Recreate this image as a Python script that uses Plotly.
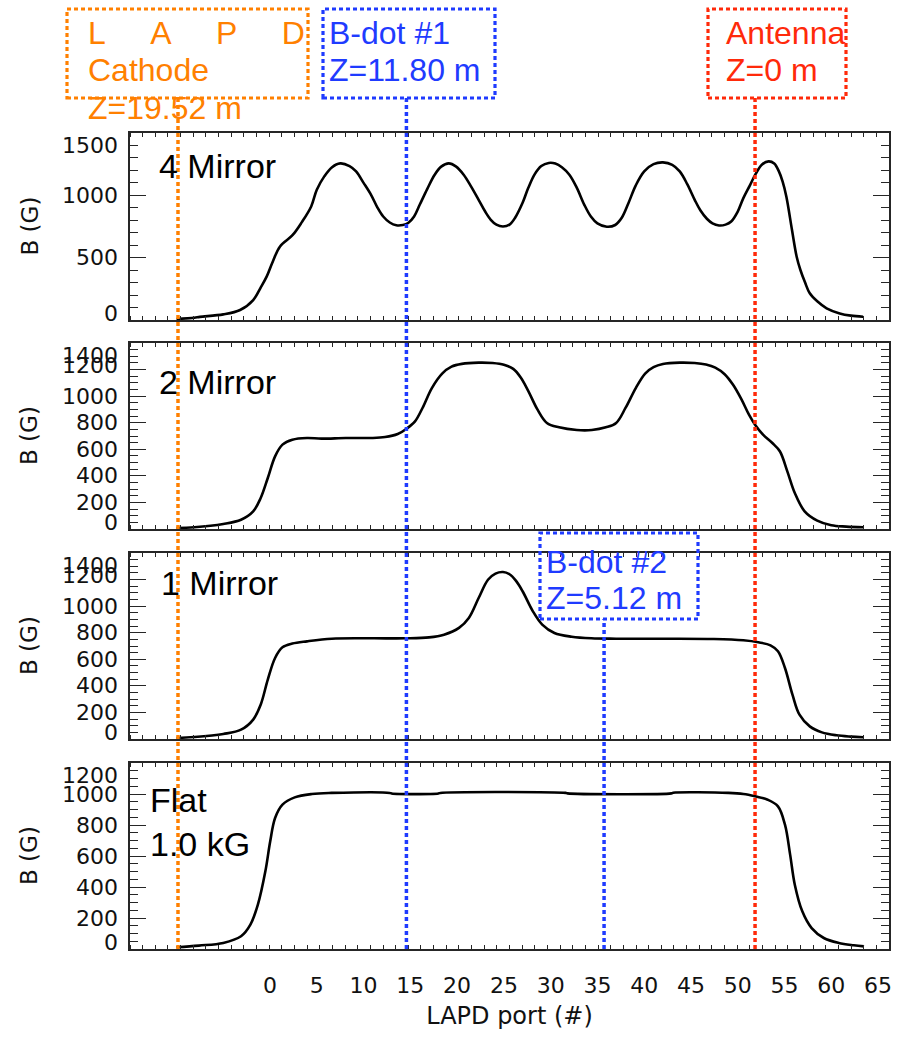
import plotly.graph_objects as go

# ---------------- data ----------------
port_4m = [-10.0, -8.1, -7.5, -5.0, -3.2, -1.8, -1.0, -0.35, 0.3, 1.07, 2.4, 3.4, 4.4, 5.0, 5.8, 6.6, 7.5,
           8.5, 9.2, 10.0, 10.8, 11.5, 12.1, 12.8, 13.5, 14.2, 14.8, 15.4, 16.0, 16.8, 17.6, 18.3, 19.1,
           19.9, 20.7, 21.5, 22.3, 23.0, 23.6, 24.2, 24.9, 25.6, 26.2, 27.0, 27.6, 28.3, 29.0, 29.8, 30.5,
           31.2, 32.0, 32.8, 33.6, 34.3, 35.0, 36.0, 36.9, 37.6, 38.3, 39.1, 40.0, 41.0, 42.0, 43.0,
           43.8, 44.6, 45.4, 46.0, 46.7, 47.3, 48.0, 48.7, 49.3, 50.0, 50.6, 51.3, 51.9, 52.6, 53.3,
           53.9, 54.4, 54.8, 55.2, 55.8, 56.3, 56.7, 57.2, 57.7, 58.5, 59.5, 60.9, 62.1, 63.4]
b_4m = [8, 18, 25, 45, 80, 160, 260, 350, 470, 590, 680, 785, 911, 1045, 1152, 1224, 1256,
        1235, 1192, 1100, 1004, 900, 830, 782, 760, 762, 780, 830, 924, 1050, 1165, 1230, 1256,
        1230, 1165, 1070, 964, 870, 804, 765, 750, 765, 820, 940, 1058, 1170, 1235, 1260, 1255,
        1225, 1165, 1060, 924, 830, 775, 748, 762, 820, 935, 1080, 1192, 1250, 1264, 1245,
        1192, 1090, 964, 880, 812, 775, 758, 765, 790, 870, 978, 1080, 1170, 1248, 1272,
        1255, 1192, 1110, 989, 722, 508, 401, 300, 214, 150, 94, 53, 35, 26]

port_2m = [-10.0, -8.1, -5.0, -3.1, -1.8, -1.0, -0.24, 0.54, 1.33, 2.38, 3.95, 5.5, 8.1, 10.8, 12.3,
           13.65, 14.6, 15.5, 16.3, 17.3, 18.4, 19.4, 20.5, 22.3, 23.8, 25.0, 26.0, 26.8, 27.6, 28.6,
           29.6, 30.9, 32.8, 34.4, 35.9, 37.0, 38.0, 39.1, 40.1, 41.0, 42.0, 43.8, 45.4, 46.6, 47.6,
           48.6, 49.5, 50.4, 51.2, 51.85, 52.7, 53.7, 54.5, 55.3, 56.1, 57.15, 58.5, 60.0, 61.6, 63.4]
b_2m = [8, 13, 38, 70, 133, 233, 384, 547, 635, 672, 685, 680, 685, 685, 692,
        715, 755, 810, 911, 1061, 1170, 1222, 1243, 1252, 1249, 1236, 1205, 1140, 1040, 898,
        798, 765, 745, 745, 765, 798, 911, 1061, 1170, 1218, 1242, 1252, 1249, 1238, 1215,
        1165, 1085, 975, 860, 785, 710, 647, 585, 434, 271, 133, 63, 28, 18, 13]

port_1m = [-10.0, -8.1, -5.0, -3.1, -1.8, -1.0, -0.24, 0.54, 1.33, 2.38, 3.95, 6.6, 10.8, 14.6, 17.0,
           18.6, 20.2, 21.25, 22.3, 23.3, 24.1, 24.9, 25.6, 26.3, 27.0, 28.1, 29.1, 30.4, 32.25, 34.35, 37.0,
           42.2, 47.45, 50.6, 52.2, 53.5, 54.3, 55.05, 55.85, 56.6, 57.7, 59.0, 60.55, 62.1, 63.4]
b_1m = [8, 15, 38, 70, 146, 258, 447, 610, 690, 718, 735, 755, 758, 758, 765,
        785, 836, 911, 1061, 1199, 1245, 1257, 1240, 1190, 1112, 961, 861, 798, 770, 758, 755,
        755, 753, 743, 728, 705, 660, 534, 334, 183, 95, 50, 28, 18, 13]

port_flat = [-10.0, -7.6, -5.0, -3.1, -2.1, -1.3, -0.5, 0.02, 0.54, 1.33, 2.64, 4.47, 6.57, 12.8, 13.0,
             18.0, 18.2, 31.6, 31.8, 42.9, 43.1, 49.0, 50.6, 51.85, 53.2, 54.3, 55.05, 55.6, 56.1,
             56.9, 57.9, 59.2, 60.8, 62.4, 63.5]
b_flat = [11, 22, 39, 82, 157, 286, 501, 695, 845, 931, 978, 1000, 1007, 1007, 1003,
          1003, 1007, 1007, 1004, 1004, 1008, 1007, 1000, 985, 963, 920, 802, 609, 415,
          243, 135, 71, 39, 24, 17]

panel_names = ["4 Mirror", "2 Mirror", "1 Mirror", "Flat<br>1.0 kG"]
panel_ranges = [[0, 1500], [0, 1400], [0, 1400], [0, 1200]]
panel_major = [500, 200, 200, 200]
panel_minor = [100, 50, 50, 50]
yticks_4m = [0, 500, 1000, 1500]
yticks_2m = [0, 200, 400, 600, 800, 1000, 1200, 1400]
yticks_1m = [0, 200, 400, 600, 800, 1000, 1200, 1400]
yticks_flat = [0, 200, 400, 600, 800, 1000, 1200]
xticks = [0, 5, 10, 15, 20, 25, 30, 35, 40, 45, 50, 55, 60, 65]

probe_ports = [-9.84, 14.58, 35.71, 51.85]          # cathode, B-dot #1, B-dot #2, antenna
probe_colors = ["#FF8000", "#1F3BFF", "#1F3BFF", "#FF2A0A"]

x_range = [-14.97, 66.17]

# ---------------- layout helpers ----------------
L, R, T, B = 130, 19, 133, 90
W, H = 908, 1039
PW, PH = W - L - R, H - T - B


def xp(px):
    return (px - L) / PW


def yp(py):
    return (H - B - py) / PH


domains = [[yp(320), yp(133)], [yp(529), yp(343)], [yp(739), yp(553)], [yp(949), yp(763)]]
data = [(port_4m, b_4m, yticks_4m), (port_2m, b_2m, yticks_2m),
        (port_1m, b_1m, yticks_1m), (port_flat, b_flat, yticks_flat)]

AX = "#262626"
TICKFONT = dict(family="DejaVu Sans", size=22, color="#111111")
LABFONT = dict(family="Liberation Sans, Arial", size=34, color="black")

fig = go.Figure()
layout = dict(
    width=W, height=H,
    margin=dict(l=L, r=R, t=T, b=B, pad=0),
    paper_bgcolor="white", plot_bgcolor="white",
    showlegend=False, template="none",
)
annotations = []
shapes = []

for i, (xs, ys, yt) in enumerate(data):
    n = i + 1
    sfx = "" if n == 1 else str(n)
    fig.add_trace(go.Scatter(
        x=xs, y=ys, xaxis="x" + sfx, yaxis="y" + sfx, mode="lines",
        line=dict(color="black", width=2.6, shape="spline", smoothing=1.0),
        hoverinfo="skip"))
    layout["xaxis" + sfx] = dict(
        domain=[0, 1], anchor="y" + sfx, range=x_range,
        showline=True, linecolor=AX, linewidth=1.6, mirror="allticks",
        showgrid=False, zeroline=False,
        tickmode="array", tickvals=xticks, ticktext=[str(v) for v in xticks],
        ticks="", showticklabels=(n == 4), tickfont=TICKFONT,
        ticklabelstandoff=16,
        minor=dict(ticks="inside", ticklen=4, tickwidth=1.2, tickcolor=AX,
                   tickmode="linear", tick0=x_range[0],
                   dtick=(x_range[1] - x_range[0]) / 60, showgrid=False),
    )
    if n == 4:
        layout["xaxis" + sfx]["title"] = dict(
            text="LAPD port (#)", font=dict(family="DejaVu Sans", size=24, color="#111111"),
            standoff=10)
    layout["yaxis" + sfx] = dict(
        domain=domains[i], anchor="x" + sfx, range=panel_ranges[i],
        showline=True, linecolor=AX, linewidth=1.6, mirror="allticks",
        showgrid=False, zeroline=False, showticklabels=False,
        ticks="inside", ticklen=16, tickwidth=1.4, tickcolor=AX,
        tick0=0, dtick=panel_major[i],
        minor=dict(ticks="inside", ticklen=8, tickwidth=1.2, tickcolor=AX,
                   tick0=0, dtick=panel_minor[i], showgrid=False),
    )
    # y tick labels (ends pulled inward as in the reference)
    for v in yt:
        shift = 0
        if v == yt[-1]:
            shift = -12
        elif v == yt[0]:
            shift = 7
        elif len(yt) == 8 and v == yt[-2]:
            shift = 4
        annotations.append(dict(
            xref="paper", yref="y" + sfx, x=xp(120), y=v, yshift=shift,
            text=str(v), showarrow=False, xanchor="right", yanchor="middle",
            font=TICKFONT))
    # y title
    annotations.append(dict(
        xref="paper", yref="y" + sfx + " domain", x=xp(29), y=0.5,
        text="B (G)", textangle=-90, showarrow=False,
        xanchor="center", yanchor="middle",
        font=dict(family="DejaVu Sans", size=23, color="#111111")))

# panel labels
label_pos = [(157, 166), (157, 382), (159, 583), (148, 822)]
for name, (lx, ly) in zip(panel_names, label_pos):
    annotations.append(dict(
        xref="paper", yref="paper", x=xp(lx), y=yp(ly), text=name,
        showarrow=False, xanchor="left", yanchor="middle", align="left",
        font=LABFONT))

# probe markers: dotted vertical lines
line_tops = [98, 98, 619, 98]
for xv, c, top in zip(probe_ports, probe_colors, line_tops):
    shapes.append(dict(
        type="line", xref="x", yref="paper", x0=xv, x1=xv, y0=0, y1=yp(top),
        line=dict(color=c, width=3.5, dash="4px,3px"), layer="above"))

# dotted boxes with labels
NB = "\u00a0" * 5
boxes = [
    ((67, 308, 9, 98), probe_colors[0],
     [("L" + NB + "A" + NB + "P" + NB + "D", 33), ("Cathode", 70), ("Z=19.52 m", 108)], 86),
    ((323, 495, 9, 98), probe_colors[1], [("B-dot #1", 33), ("Z=11.80 m", 70)], 327),
    ((708, 846, 9, 98), probe_colors[3], [("Antenna", 33), ("Z=0 m", 70)], 724),
    ((540, 698, 533, 619), probe_colors[2], [("B-dot #2", 562), ("Z=5.12 m", 598)], 544),
]
for (x0, x1, y0, y1), c, texts, tx in boxes:
    shapes.append(dict(
        type="rect", xref="paper", yref="paper",
        x0=xp(x0), x1=xp(x1), y0=yp(y1), y1=yp(y0),
        line=dict(color=c, width=3.2, dash="4px,3px"), layer="above"))
    for t, ty in texts:
        annotations.append(dict(
            xref="paper", yref="paper", x=xp(tx), y=yp(ty), text=t,
            showarrow=False, xanchor="left", yanchor="middle",
            font=dict(family="Liberation Sans, Arial", size=32, color=c)))

layout["annotations"] = annotations
layout["shapes"] = shapes
fig.update_layout(**layout)
fig.write_html("out.html")
